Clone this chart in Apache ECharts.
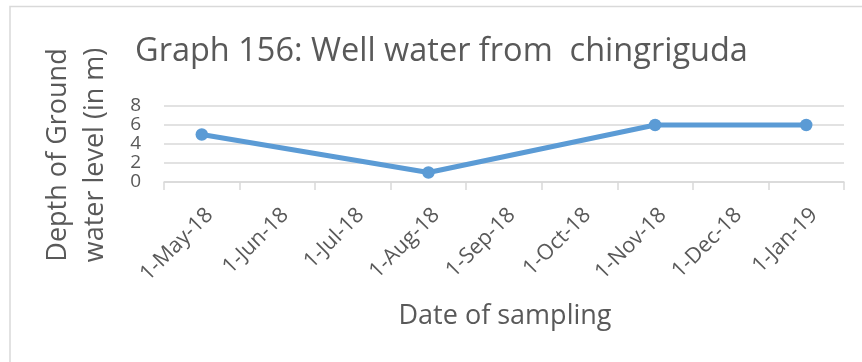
<!DOCTYPE html>
<html>
<head>
<meta charset="utf-8">
<script src="https://cdn.jsdelivr.net/npm/echarts@6/dist/echarts.min.js"></script>
<style>
  html, body { margin: 0; padding: 0; background: #ffffff; }
  #chart { width: 862px; height: 362px; }
</style>
</head>
<body>
<div id="chart"></div>
<script>
// Monthly slots on the date axis
const months = ['1-May-18', '1-Jun-18', '1-Jul-18', '1-Aug-18', '1-Sep-18',
                '1-Oct-18', '1-Nov-18', '1-Dec-18', '1-Jan-19'];
// Sampling dates and measured depth to ground water (m)
const sampleDates = ['1-May-18', '1-Aug-18', '1-Nov-18', '1-Jan-19'];
const depths = [5, 1, 6, 6];
// Value axis ticks
const yTicks = [0, 2, 4, 6, 8];

const FONT = '"Open Sans", sans-serif';
const TEXT = '#595959';
const GRID_LINE = '#d9d9d9';

const chart = echarts.init(document.getElementById('chart'), null, { renderer: 'canvas' });

chart.setOption({
  animation: false,
  backgroundColor: '#ffffff',
  grid: { left: 164, right: 18, top: 106, bottom: 180, containLabel: false },
  graphic: [
    {
      type: 'rect',
      shape: { x: 10, y: 6.5, width: 900, height: 400 },
      style: { fill: 'none', stroke: GRID_LINE, lineWidth: 1.5 },
      silent: true
    },
    {
      type: 'text',
      x: 135, y: 52,
      style: {
        text: 'Graph 156: Well water from  chingriguda',
        font: '32.5px ' + FONT,
        fill: TEXT,
        align: 'left',
        verticalAlign: 'middle'
      }
    },
    {
      type: 'text',
      x: 77, y: 155,
      rotation: Math.PI / 2,
      style: {
        text: 'Depth of Ground\nwater level (in m)',
        font: '27px ' + FONT,
        fill: TEXT,
        align: 'center',
        verticalAlign: 'middle',
        lineHeight: 37
      }
    },
    {
      type: 'text',
      x: 505, y: 316,
      style: {
        text: 'Date of sampling',
        font: '27px ' + FONT,
        fill: TEXT,
        align: 'center',
        verticalAlign: 'middle'
      }
    }
  ],
  xAxis: {
    type: 'category',
    data: months,
    boundaryGap: true,
    axisLine: { show: true, lineStyle: { color: GRID_LINE, width: 1.5 } },
    axisTick: { show: true, length: 8, interval: 0, lineStyle: { color: GRID_LINE, width: 1.5 } },
    axisLabel: {
      interval: 0,
      rotate: 45,
      margin: 22,
      verticalAlign: 'top',
      color: TEXT,
      fontFamily: FONT,
      fontSize: 21.5
    },
    splitLine: { show: false }
  },
  yAxis: {
    type: 'value',
    min: yTicks[0],
    max: yTicks[yTicks.length - 1],
    interval: yTicks[1] - yTicks[0],
    axisLine: { show: false },
    axisTick: { show: false },
    axisLabel: { color: TEXT, fontFamily: FONT, fontSize: 19, margin: 23 },
    splitLine: { show: true, lineStyle: { color: GRID_LINE, width: 1.5 } }
  },
  series: [
    {
      type: 'line',
      data: sampleDates.map((d, i) => [d, depths[i]]),
      symbol: 'circle',
      symbolSize: 12.5,
      showSymbol: true,
      lineStyle: { color: '#5b9bd5', width: 5, cap: 'round', join: 'round' },
      itemStyle: { color: '#5b9bd5' },
      z: 3
    }
  ]
});
</script>
</body>
</html>
